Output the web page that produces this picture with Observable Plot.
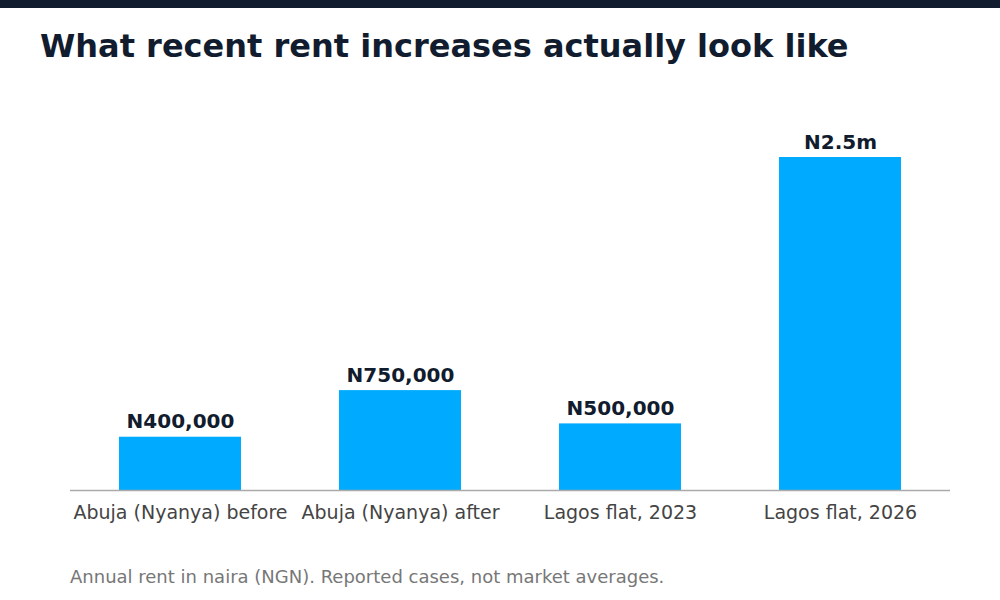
<!DOCTYPE html>
<html>
<head>
<meta charset="utf-8">
<script src="https://cdn.jsdelivr.net/npm/d3@7"></script>
<script src="https://cdn.jsdelivr.net/npm/@observablehq/plot@0.6"></script>
<style>
  html, body { margin: 0; padding: 0; background: #fff; }
  #wrap { position: relative; width: 1000px; height: 600px; overflow: hidden; font-family: "DejaVu Sans", sans-serif; }
  #topbar { position: absolute; left: 0; top: 0; width: 1000px; height: 8px; background: #111c2e; }
  #title { position: absolute; left: 40px; top: 30px; font-size: 32px; line-height: 32px; font-weight: bold; color: #111c2e; white-space: nowrap; }
  #caption { position: absolute; left: 70px; top: 567px; font-size: 18px; line-height: 20px; color: #777; white-space: nowrap; }
  #chart { position: absolute; left: 0; top: 0; }
</style>
</head>
<body>
<div id="wrap">
  <div id="chart"></div>
  <div id="topbar"></div>
  <div id="title">What recent rent increases actually look like</div>
  <div id="caption">Annual rent in naira (NGN). Reported cases, not market averages.</div>
</div>
<script>
const categories = ["Abuja (Nyanya) before", "Abuja (Nyanya) after", "Lagos flat, 2023", "Lagos flat, 2026"];
const values = [400000, 750000, 500000, 2500000];
const valueLabels = ["N400,000", "N750,000", "N500,000", "N2.5m"];

const data = categories.map((c, i) => ({category: c, value: values[i], label: valueLabels[i]}));

const chart = Plot.plot({
  width: 1000,
  height: 600,
  marginTop: 157,
  marginBottom: 110,
  marginLeft: 70,
  marginRight: 50,
  style: {fontFamily: "DejaVu Sans, sans-serif", background: "transparent"},
  x: {domain: categories, paddingInner: 0.445, paddingOuter: 0.2225, label: null},
  y: {domain: [0, 2500000], axis: null},
  marks: [
    Plot.barY(data, {x: "category", y: "value", fill: "#00aaff"}),
    Plot.ruleY([0], {stroke: "#aaaaaa", strokeWidth: 1.5}),
    Plot.text(data, {x: "category", y: "value", text: "label", dy: -9, lineAnchor: "bottom", fontSize: 20, fontWeight: "bold", fill: "#111c2e"}),
    Plot.axisX({tickSize: 0, tickPadding: 15, fontSize: 19, color: "#444", label: null})
  ]
});
document.getElementById("chart").appendChild(chart);
</script>
</body>
</html>
